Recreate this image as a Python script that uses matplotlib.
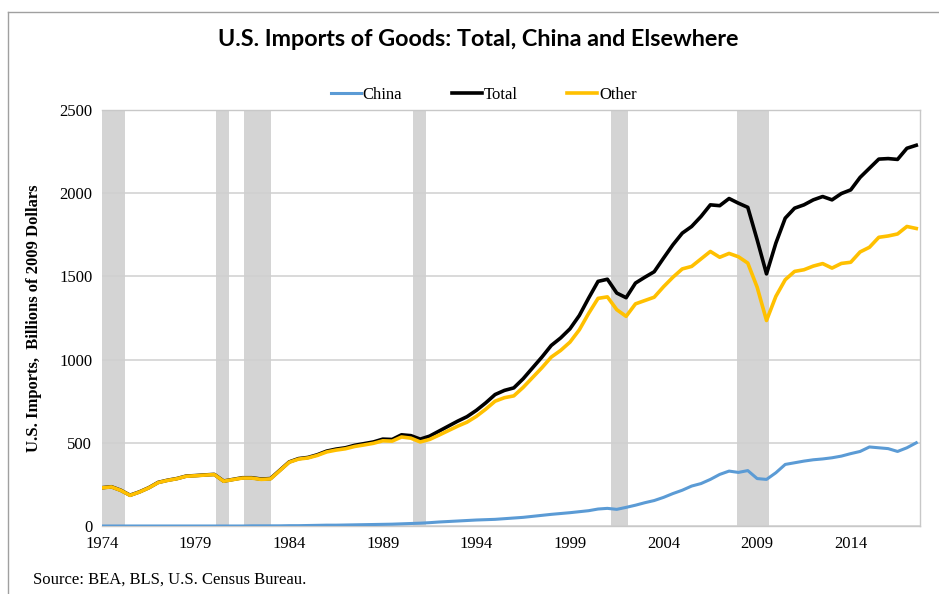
import numpy as np
import matplotlib
matplotlib.use("Agg")
import matplotlib.pyplot as plt
from matplotlib.lines import Line2D

# Half-yearly observations, 1974.0 .. 2017.5 (billions of 2009 dollars)
years = np.arange(1974.0, 2018.0, 0.5)

total = [230, 236, 215, 185, 205, 230, 262, 275, 285, 300,
         303, 307, 310, 270, 280, 290, 290, 282, 285, 335,
         385, 405, 412, 428, 450, 462, 470, 485, 495, 505,
         522, 520, 548, 543, 522, 540, 570, 600, 630, 657,
         695, 740, 790, 815, 830, 885, 950, 1015, 1085, 1130,
         1185, 1265, 1370, 1470, 1483, 1400, 1372, 1460, 1495, 1528,
         1610, 1690, 1760, 1800, 1860, 1930, 1925, 1968, 1940, 1915,
         1720, 1515, 1700, 1850, 1910, 1930, 1960, 1980, 1960, 1998,
         2020, 2095, 2150, 2205, 2208, 2203, 2270, 2288]

china = [0, 0, 0, 0, 0, 0, 0, 0, 0, 0,
         0, 0, 0, 0, 0, 0, 1, 1, 1, 1,
         2, 2, 3, 4, 5, 5, 6, 7, 8, 9,
         10, 11, 13, 15, 17, 20, 24, 27, 30, 33,
         36, 38, 40, 44, 48, 52, 58, 64, 70, 75,
         80, 86, 92, 102, 106, 100, 112, 125, 140, 153,
         172, 195, 215, 240, 255, 280, 310, 330, 322, 333,
         285, 280, 320, 370, 380, 390, 398, 403, 410, 420,
         435, 448, 475, 470, 465, 448, 470, 500]

other = [229, 235, 214, 184, 204, 229, 261, 274, 284, 299,
         302, 306, 309, 269, 279, 288, 288, 280, 283, 333,
         383, 402, 409, 424, 445, 456, 464, 478, 487, 497,
         512, 510, 535, 528, 505, 520, 546, 573, 600, 624,
         659, 702, 750, 771, 782, 833, 892, 951, 1015, 1055,
         1105, 1179, 1278, 1368, 1377, 1300, 1260, 1335, 1355, 1375,
         1438, 1495, 1545, 1560, 1605, 1650, 1615, 1638, 1618, 1580,
         1435, 1235, 1380, 1480, 1530, 1540, 1562, 1577, 1550, 1578,
         1585, 1647, 1675, 1735, 1743, 1755, 1800, 1788]

# NBER recession periods (start, end) in decimal years
recessions = [(1974.0, 1975.25), (1980.1, 1980.8), (1981.6, 1983.05),
              (1990.6, 1991.3), (2001.2, 2002.1), (2007.95, 2009.65)]

xticks = [1974, 1979, 1984, 1989, 1994, 1999, 2004, 2009, 2014]
yticks = [0, 500, 1000, 1500, 2000, 2500]

C_CHINA = "#5B9BD5"
C_TOTAL = "#000000"
C_OTHER = "#FFC000"
SERIF = "Liberation Serif"

fig = plt.figure(figsize=(9.39, 5.94), dpi=100)
ax = fig.add_axes([102 / 939, 1 - 526 / 594, 818 / 939, 416 / 594])

for start, end in recessions:
    ax.axvspan(start, end, color="#D4D4D4", lw=0, zorder=0)

ax.plot(years, china, color=C_CHINA, lw=2.2, zorder=3)
ax.plot(years, total, color=C_TOTAL, lw=2.6, zorder=4)
ax.plot(years, other, color=C_OTHER, lw=2.6, zorder=5)

ax.set_xlim(1974, 2017.7)
ax.set_ylim(0, 2500)
ax.set_xticks(xticks)
ax.set_yticks(yticks)
ax.set_xticklabels([str(t) for t in xticks], fontfamily=SERIF, fontsize=12)
ax.set_yticklabels([str(t) for t in yticks], fontfamily=SERIF, fontsize=12)
ax.tick_params(length=0, pad=7)
ax.yaxis.grid(True, color="#D0D0D0", lw=1.1, zorder=1)
ax.set_axisbelow(True)
for side in ax.spines:
    ax.spines[side].set_color("#C8C8C8")
    ax.spines[side].set_linewidth(1.0)
ax.spines["left"].set_visible(False)

ax.set_ylabel("U.S. Imports,  Billions of 2009 Dollars", fontfamily=SERIF,
              fontsize=12, fontweight="bold", labelpad=12)

fig.text(0.509, 1 - 40 / 594, "U.S. Imports of Goods: Total, China and Elsewhere",
         ha="center", va="center", fontsize=16.8, fontweight="bold",
         fontfamily="Lato")

handles = [Line2D([], [], color=C_CHINA, lw=2.2),
           Line2D([], [], color=C_TOTAL, lw=2.6),
           Line2D([], [], color=C_OTHER, lw=2.6)]
fig.legend(handles, ["China", "Total", "Other"], loc="center",
           bbox_to_anchor=(0.515, 1 - 95 / 594), ncol=3, frameon=False,
           prop={"family": SERIF, "size": 12}, handlelength=1.8,
           handletextpad=0.1, columnspacing=3.0)

fig.text(33 / 939, 1 - 580 / 594, "Source: BEA, BLS, U.S. Census Bureau.",
         ha="left", va="center", fontsize=12, fontfamily=SERIF)

# outer frame lines (top and left)
fig.add_artist(Line2D([8 / 939, 1.0], [1 - 12 / 594, 1 - 12 / 594],
                      color="#A0A0A0", lw=1.0, transform=fig.transFigure))
fig.add_artist(Line2D([8 / 939, 8 / 939], [0.0, 1 - 12 / 594],
                      color="#A0A0A0", lw=1.0, transform=fig.transFigure))

fig.savefig("out.png", dpi=100)
